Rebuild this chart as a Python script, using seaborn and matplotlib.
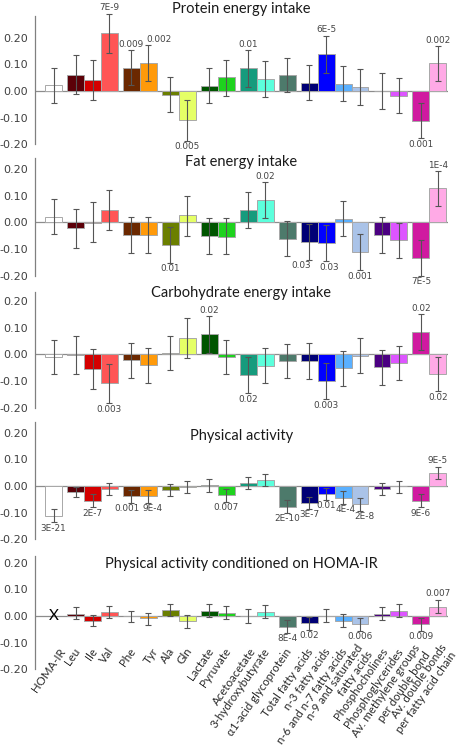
import numpy as np
import pandas as pd
import matplotlib
matplotlib.use("Agg")
import matplotlib.pyplot as plt
import seaborn as sns

names = ["HOMA-IR", "Leu", "Ile", "Val", "Phe", "Tyr", "Ala", "Gln", "Lactate", "Pyruvate",
         "Acetoacetate", "3-hydroxybutyrate", "α1-acid glycoprotein", "Total fatty acids",
         "n-3 fatty acids", "n-6 and n-7 fatty acids", "n-9 and saturated\nfatty acids",
         "Phosphocholines", "Phosphoglycerides", "Av. methylene groups\nper double bond",
         "Av. double bonds\nper fatty acid chain"]
groups = [0, 1, 1, 1, 2, 2, 3, 3, 4, 4, 5, 5, 6, 7, 7, 7, 7, 8, 8, 9, 9]
colors = ["#ffffff", "#5c0008", "#d40000", "#ff5555", "#6b2800", "#ff9a0a", "#6b7f00",
          "#e5ff66", "#005500", "#1ed21e", "#169b7d", "#5cffdc", "#4d7a6b", "#000075",
          "#0000ff", "#5ab0ff", "#aac3e8", "#4b0082", "#dd55ff", "#d01aa0", "#ffaae6"]

titles = ["Protein energy intake", "Fat energy intake", "Carbohydrate energy intake",
          "Physical activity", "Physical activity conditioned on HOMA-IR"]

protein_val = [0.021, 0.061, 0.042, 0.217, 0.087, 0.105, -0.014, -0.110, 0.019, 0.052, 0.085,
               0.044, 0.060, 0.031, 0.137, 0.026, 0.016, 0.0, -0.019, -0.111, 0.104]
protein_lo = [-0.044, -0.012, -0.034, 0.143, 0.021, 0.036, -0.080, -0.186, -0.046, -0.018, 0.016,
              -0.024, -0.005, -0.034, 0.066, -0.037, -0.051, -0.067, -0.083, -0.177, 0.037]
protein_hi = [0.085, 0.133, 0.117, 0.290, 0.152, 0.171, 0.051, -0.034, 0.085, 0.117, 0.153,
              0.111, 0.125, 0.097, 0.206, 0.092, 0.083, 0.066, 0.047, -0.046, 0.167]
protein_p = ["", "", "", "7E-9", "0.009", "0.002", "", "0.005", "", "", "0.01",
             "", "", "", "6E-5", "", "", "", "", "0.001", "0.002"]

fat_val = [0.021, -0.022, -0.002, 0.045, -0.046, -0.049, -0.085, 0.026, -0.051, -0.054, 0.047,
           0.082, -0.061, -0.073, -0.078, 0.014, -0.112, -0.048, -0.067, -0.135, 0.127]
fat_lo = [-0.044, -0.095, -0.075, -0.030, -0.114, -0.116, -0.151, -0.051, -0.120, -0.120, -0.021,
          0.015, -0.125, -0.141, -0.146, -0.052, -0.180, -0.116, -0.135, -0.200, 0.062]
fat_hi = [0.086, 0.049, 0.075, 0.120, 0.019, 0.019, -0.016, 0.100, 0.015, 0.015, 0.115,
          0.150, 0.004, -0.005, -0.010, 0.079, -0.044, 0.019, -0.001, -0.066, 0.192]
fat_p = ["", "", "", "", "", "", "0.01", "", "", "", "",
         "0.02", "", "0.03", "0.03", "", "0.001", "", "", "7E-5", "1E-4"]

carb_val = [-0.011, -0.002, -0.055, -0.109, -0.023, -0.040, 0.005, 0.062, 0.075, -0.011, -0.079,
            -0.043, -0.025, -0.025, -0.100, -0.053, -0.005, -0.049, -0.034, 0.084, -0.075]
carb_lo = [-0.075, -0.075, -0.129, -0.184, -0.088, -0.107, -0.060, -0.013, 0.006, -0.075, -0.146,
           -0.109, -0.090, -0.091, -0.169, -0.118, -0.071, -0.115, -0.097, 0.016, -0.139]
carb_hi = [0.052, 0.067, 0.019, -0.036, 0.041, 0.025, 0.067, 0.136, 0.142, 0.052, -0.011,
           0.022, 0.038, 0.041, -0.034, 0.011, 0.061, 0.016, 0.032, 0.150, -0.011]
carb_p = ["", "", "", "0.003", "", "", "", "", "0.02", "", "0.02",
          "", "", "", "0.003", "", "", "", "", "0.02", "0.02"]

pa_val = [-0.111, -0.022, -0.057, -0.012, -0.039, -0.039, -0.016, -0.005, 0.003, -0.033, 0.010,
          0.021, -0.078, -0.063, -0.029, -0.044, -0.069, -0.010, 0.001, -0.055, 0.048]
pa_lo = [-0.135, -0.042, -0.080, -0.035, -0.063, -0.063, -0.037, -0.027, -0.024, -0.059, -0.012,
         -0.001, -0.100, -0.085, -0.052, -0.067, -0.092, -0.034, -0.026, -0.080, 0.026]
pa_hi = [-0.087, -0.005, -0.031, 0.010, -0.016, -0.016, 0.006, 0.019, 0.025, -0.010, 0.033,
         0.046, -0.054, -0.040, -0.007, -0.020, -0.046, 0.012, 0.020, -0.031, 0.072]
pa_p = ["3E-21", "", "2E-7", "", "0.001", "9E-4", "", "", "", "0.007", "",
        "", "2E-10", "3E-7", "0.01", "4E-4", "2E-8", "", "", "9E-6", "9E-5"]

homa_val = [np.nan, 0.009, -0.018, 0.016, 0.0, -0.009, 0.021, -0.020, 0.019, 0.012, 0.0,
            0.015, -0.040, -0.027, 0.0, -0.018, -0.031, 0.009, 0.019, -0.030, 0.035]
homa_lo = [np.nan, -0.012, -0.038, -0.006, -0.024, -0.033, 0.000, -0.045, -0.003, -0.012, -0.027,
           -0.009, -0.062, -0.051, -0.024, -0.040, -0.055, -0.015, -0.004, -0.055, 0.010]
homa_hi = [np.nan, 0.033, 0.003, 0.039, 0.020, 0.012, 0.044, 0.004, 0.044, 0.037, 0.026,
           0.040, -0.016, -0.005, 0.027, 0.006, -0.007, 0.035, 0.044, -0.009, 0.060]
homa_p = ["", "", "", "", "", "", "", "", "", "", "",
          "", "8E-4", "0.02", "", "", "0.006", "", "", "0.009", "0.007"]

panels = [(protein_val, protein_lo, protein_hi, protein_p),
          (fat_val, fat_lo, fat_hi, fat_p),
          (carb_val, carb_lo, carb_hi, carb_p),
          (pa_val, pa_lo, pa_hi, pa_p),
          (homa_val, homa_lo, homa_hi, homa_p)]

# layout (pixels of a 460x748 figure)
W, H = 460, 748
zero_px = [91, 222.3, 354.3, 486, 616]
ytop = [0.28, 0.24, 0.235, 0.24, 0.225]
title_y = [0.293, 0.21, 0.213, 0.172, 0.18]
px_per_unit = 267
nudge = {(0, 5): 0.6, (1, 13): -0.45, (1, 14): 0.2,
         (3, 4): -0.25, (3, 5): 0.27, (3, 15): 0.15, (3, 16): 0.27}
label_nudge = {0: 0.45, 5: 0.35, 10: 0.2, 16: 0.2, 17: 0.1, 18: 0.0, 20: 0.55}
label_font = ["Lato", "DejaVu Sans"]

sns.set_theme(style="white")
plt.rcParams["font.family"] = ["DejaVu Sans"]
plt.rcParams["axes.unicode_minus"] = False

pos = np.arange(len(names)) + 0.3 * np.array(groups)
palette = dict(zip(names, colors))

fig = plt.figure(figsize=(W / 100, H / 100), dpi=100)
for i, (val, lo, hi, pl) in enumerate(panels):
    bot_px = zero_px[i] + 0.2 * px_per_unit
    top_px = zero_px[i] - ytop[i] * px_per_unit
    ax = fig.add_axes([35 / W, 1 - bot_px / H, (448 - 35) / W, (bot_px - top_px) / H])
    df = pd.DataFrame({"pos": pos, "name": names, "value": val, "lo": lo, "hi": hi})
    sns.barplot(data=df.dropna(), x="pos", y="value", hue="name", hue_order=names,
                palette=palette, saturation=1, native_scale=True, width=1.0, legend=False,
                edgecolor="#a8a8a8", linewidth=0.7, ax=ax, zorder=2)
    v = df["value"].to_numpy()
    ax.errorbar(df["pos"], v, yerr=[v - df["lo"].to_numpy(), df["hi"].to_numpy() - v],
                fmt="none", ecolor="#555555", elinewidth=0.8, capsize=2, capthick=0.8,
                zorder=3, clip_on=False)
    ax.axhline(0, color="#8c8c8c", lw=0.9, zorder=1)
    for j, txt in enumerate(pl):
        if not txt:
            continue
        up = v[j] >= 0
        yy = df["hi"][j] if up else df["lo"][j]
        ax.annotate(txt, (pos[j] + nudge.get((i, j), 0), yy),
                    xytext=(0, 6 if up else -6), textcoords="offset pixels",
                    ha="center", va="center", fontsize=6.4, color="#444444",
                    annotation_clip=False)
    ax.set_xlim(-1.1, 23.3)
    ax.set_ylim(-0.2, ytop[i])
    ax.set_yticks([-0.2, -0.1, 0.0, 0.1, 0.2])
    ax.set_yticklabels(["%.2f" % t for t in [-0.2, -0.1, 0.0, 0.1, 0.2]])
    ax.tick_params(axis="y", length=0, pad=5, labelsize=8, labelcolor="#404040")
    ax.set_xticks([])
    ax.set_xlabel("")
    ax.set_ylabel("")
    for s in ["top", "right", "bottom"]:
        ax.spines[s].set_visible(False)
    ax.spines["left"].set_color("#808080")
    ax.spines["left"].set_linewidth(0.9)
    ax.patch.set_alpha(0)
    ax.text(0.5, title_y[i], titles[i], transform=ax.get_yaxis_transform(),
            ha="center", va="baseline", fontsize=10.5, color="#1a1a1a", family=label_font)
    if i == 4:
        ax.text(pos[0], 0, "X", ha="center", va="center", fontsize=11, color="black",
                family=label_font)
        for j, name in enumerate(names):
            ax.text(pos[j] + 0.12 + label_nudge.get(j, 0), -0.124, name, rotation=55,
                    rotation_mode="anchor", ha="right", va="center", fontsize=8.3,
                    color="#2a2a2a", linespacing=1.1, family=label_font, clip_on=False)

fig.savefig("out.png", dpi=100)
